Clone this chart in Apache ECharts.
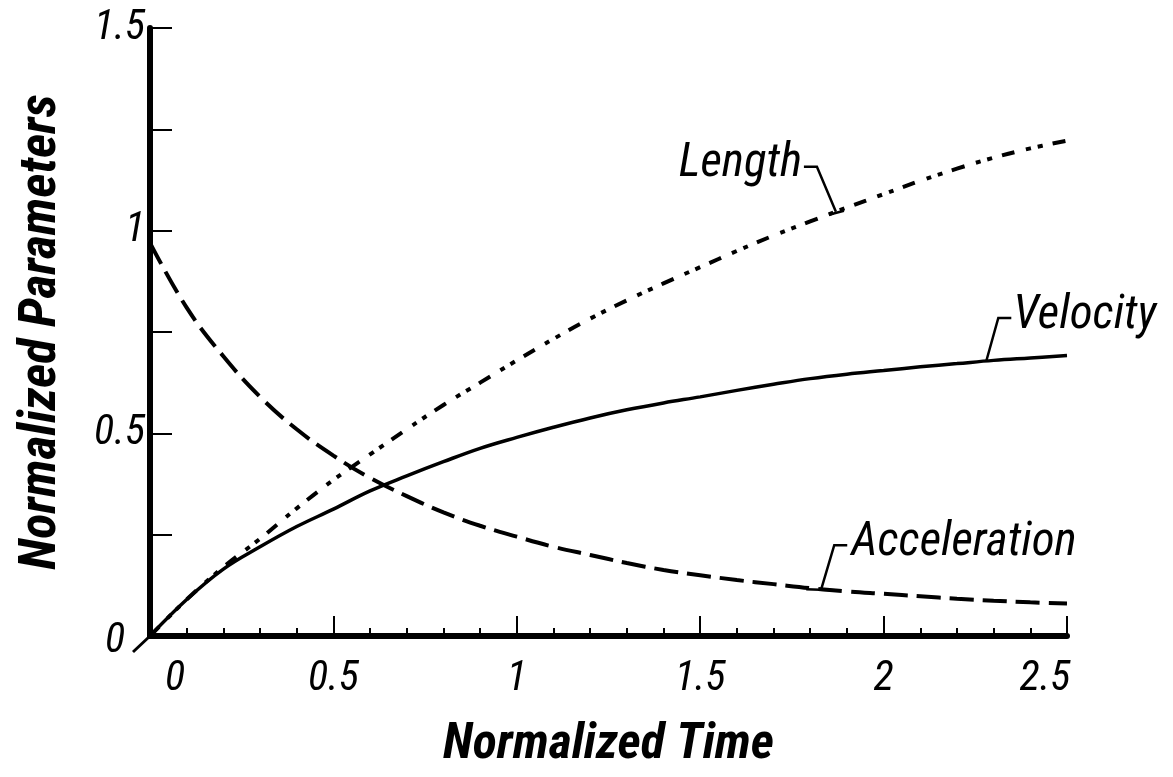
<!DOCTYPE html>
<html><head><meta charset="utf-8">
<script src="https://cdn.jsdelivr.net/npm/echarts@6/dist/echarts.min.js"></script>
<style>html,body{margin:0;padding:0;background:#fff}#c{width:1173px;height:777px}</style>
</head><body><div id="c"></div>
<script>
// ---- data ----
const time         = [0, 0.1, 0.2, 0.3, 0.4, 0.5, 0.6, 0.7, 0.8, 0.9, 1.0, 1.1, 1.2, 1.3, 1.4, 1.5, 1.6, 1.7, 1.8, 1.9, 2.0, 2.1, 2.2, 2.3, 2.4, 2.5];
const acceleration = [0.97, 0.81, 0.69, 0.59, 0.51, 0.445, 0.39, 0.345, 0.305, 0.272, 0.245, 0.22, 0.2, 0.18, 0.163, 0.15, 0.138, 0.128, 0.118, 0.11, 0.104, 0.098, 0.092, 0.087, 0.083, 0.08];
const velocity     = [0, 0.09, 0.165, 0.22, 0.27, 0.313, 0.358, 0.395, 0.43, 0.463, 0.49, 0.515, 0.538, 0.558, 0.575, 0.59, 0.606, 0.621, 0.635, 0.646, 0.655, 0.664, 0.672, 0.68, 0.686, 0.692];
const lengthVals   = [0, 0.09, 0.17, 0.24, 0.315, 0.385, 0.448, 0.51, 0.57, 0.625, 0.68, 0.733, 0.783, 0.828, 0.87, 0.91, 0.95, 0.988, 1.023, 1.057, 1.09, 1.123, 1.153, 1.18, 1.203, 1.222];
const xTickLabels  = ['0', '0.5', '1', '1.5', '2', '2.5'];
const yTickValues  = [0, 0.5, 1, 1.5];
const yTickLabels  = ['0', '0.5', '1', '1.5'];
const seriesNames  = ['Velocity', 'Acceleration', 'Length'];
const xTitle = 'Normalized Time';
const yTitle = 'Normalized Parameters';
// points (data units) where each callout touches its curve
const calloutT = { Length: 1.87, Velocity: 2.28, Acceleration: 1.83 };

// ---- chart ----
const NARROW = '"Liberation Sans Narrow", "Roboto Condensed", "Liberation Sans", Arial, sans-serif';
const chart = echarts.init(document.getElementById('c'), null, { renderer: 'canvas' });
const pairs = arr => time.map((t, i) => [t, arr[i]]);
const lineBase = { type: 'line', symbol: 'none', smooth: 0.4, silent: true, animation: false };

chart.setOption({
  backgroundColor: '#fff',
  animation: false,
  grid: { left: 150, right: 106, top: 28, bottom: 141, containLabel: false, outerBoundsMode: 'none' },
  xAxis: {
    type: 'value', min: 0, max: 2.5, interval: 0.5,
    name: xTitle, nameLocation: 'middle', nameGap: 84,
    nameTextStyle: { fontFamily: NARROW, fontStyle: 'italic', fontWeight: 'bold', fontSize: 50, color: '#000' },
    axisLine: { show: true, onZero: false, lineStyle: { color: '#000', width: 6 } },
    axisTick: { show: true, inside: true, length: 20, lineStyle: { color: '#000', width: 2 } },
    minorTick: { show: true, splitNumber: 5, length: 8, lineStyle: { color: '#000', width: 2 } },
    splitLine: { show: false },
    axisLabel: {
      margin: 22, color: '#000', fontFamily: NARROW, fontStyle: 'italic', fontSize: 42,
      formatter: v => {
        const i = Math.round(v / 0.5);
        const s = xTickLabels[i];
        if (i === 0) return '{l|' + s + '}';
        if (i === xTickLabels.length - 1) return '{r|' + s + '}';
        return s;
      },
      rich: {
        l: { fontFamily: NARROW, fontStyle: 'italic', fontSize: 42, color: '#000', padding: [0, 0, 0, 50] },
        r: { fontFamily: NARROW, fontStyle: 'italic', fontSize: 42, color: '#000', padding: [0, 44, 0, 0] }
      }
    }
  },
  yAxis: {
    type: 'value', min: 0, max: 1.5, interval: 0.25,
    name: yTitle, nameLocation: 'middle', nameGap: 82, nameRotate: 90,
    nameTextStyle: { fontFamily: NARROW, fontStyle: 'italic', fontWeight: 'bold', fontSize: 52, color: '#000' },
    axisLine: { show: true, lineStyle: { color: '#000', width: 6 } },
    axisTick: { show: true, inside: true, length: 22, lineStyle: { color: '#000', width: 2 } },
    splitLine: { show: false },
    axisLabel: {
      margin: 5, color: '#000', fontFamily: NARROW, fontStyle: 'italic', fontSize: 42,
      formatter: v => {
        const i = yTickValues.findIndex(t => Math.abs(t - v) < 1e-9);
        if (i < 0) return '';
        if (i === 0) return '{z|' + yTickLabels[i] + '}';
        return yTickLabels[i];
      },
      rich: { z: { fontFamily: NARROW, fontStyle: 'italic', fontSize: 42, color: '#000', padding: [10, 20, 0, 0] } }
    }
  },
  series: [
    Object.assign({}, lineBase, { name: seriesNames[0], data: pairs(velocity),
      lineStyle: { color: '#000', width: 3.5, type: 'solid' } }),
    Object.assign({}, lineBase, { name: seriesNames[1], data: pairs(acceleration),
      lineStyle: { color: '#000', width: 4, type: [24, 9] } }),
    Object.assign({}, lineBase, { name: seriesNames[2], data: pairs(lengthVals),
      lineStyle: { color: '#000', width: 4, type: [13, 12, 5, 7, 5, 10] } })
  ]
});

// ---- callouts (text + leader lines) anchored on the curves through the axes ----
function valueAt(arr, t) {
  for (let i = 0; i < time.length - 1; i++) {
    if (t >= time[i] && t <= time[i + 1]) {
      const f = (t - time[i]) / (time[i + 1] - time[i]);
      return arr[i] + f * (arr[i + 1] - arr[i]);
    }
  }
  return arr[arr.length - 1];
}
const px = (t, v) => chart.convertToPixel({ gridIndex: 0 }, [t, v]);
const ls = { stroke: '#000', lineWidth: 2.5 };
const poly = pts => ({ type: 'polyline', shape: { points: pts }, style: Object.assign({ fill: null }, ls), silent: true });
const txt = (x, y, s, align) => ({ type: 'text', x, y, style: { text: s, fill: '#000', font: 'italic 47px ' + NARROW, textAlign: align, textVerticalAlign: 'middle' }, silent: true });

const pL = px(calloutT.Length, valueAt(lengthVals, calloutT.Length));
const pV = px(calloutT.Velocity, valueAt(velocity, calloutT.Velocity));
const pA = px(calloutT.Acceleration, valueAt(acceleration, calloutT.Acceleration));
const o = px(0, 0);

chart.setOption({
  graphic: [
    // Length
    poly([[pL[0] - 7, pL[1] + 3], [pL[0] + 8, pL[1] - 1]]),
    poly([[pL[0], pL[1]], [pL[0] - 19, pL[1] - 45], [pL[0] - 32, pL[1] - 45]]),
    txt(pL[0] - 34, pL[1] - 47, 'Length', 'right'),
    // Velocity
    poly([[pV[0], pV[1]], [pV[0] + 12, pV[1] - 43], [pV[0] + 25, pV[1] - 43]]),
    txt(pV[0] + 27, pV[1] - 45, 'Velocity', 'left'),
    // Acceleration
    poly([[pA[0] - 15, pA[1]], [pA[0] + 13, pA[1] + 1]]),
    poly([[pA[0], pA[1]], [pA[0] + 13, pA[1] - 44], [pA[0] + 26, pA[1] - 44]]),
    txt(pA[0] + 30, pA[1] - 46, 'Acceleration', 'left'),
    // axis break mark at the origin
    { type: 'line', shape: { x1: o[0], y1: o[1], x2: o[0] - 17, y2: o[1] + 16 }, style: { stroke: '#000', lineWidth: 3 }, silent: true }
  ]
});
</script>
</body></html>
